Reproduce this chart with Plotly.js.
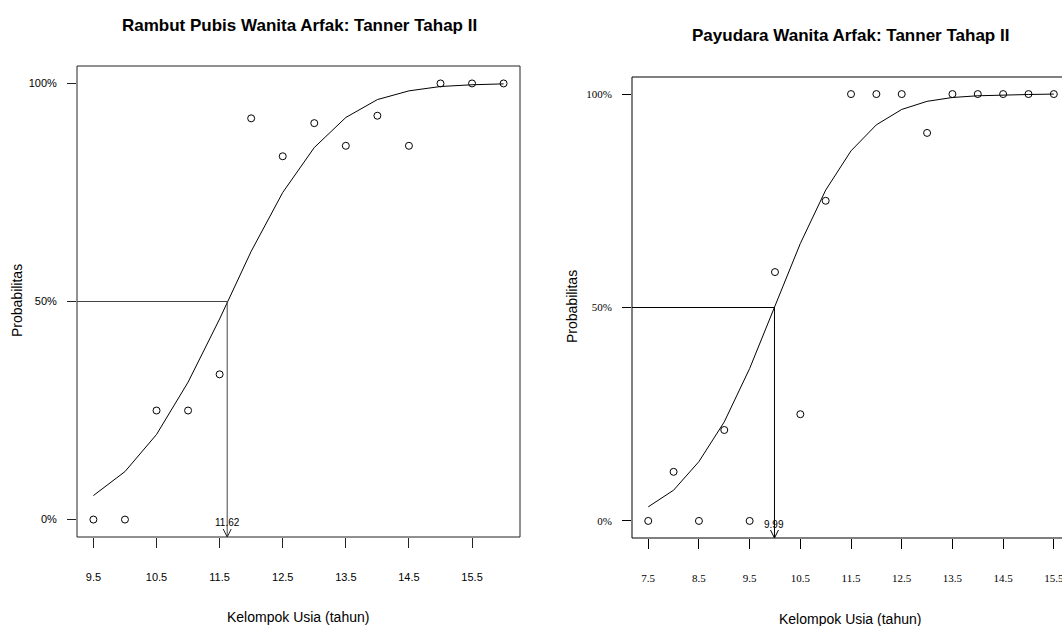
<!DOCTYPE html>
<html>
<head>
<meta charset="utf-8">
<script src="https://cdn.plot.ly/plotly-3.0.1.min.js"></script>
<style>html,body{margin:0;padding:0;background:#fff;}#chart{width:1062px;height:626px;}</style>
</head>
<body>
<div id="chart"></div>
<script>
// ---- Left panel: Rambut Pubis ----
var ageLeft = [9.5, 10, 10.5, 11, 11.5, 12, 12.5, 13, 13.5, 14, 14.5, 15, 15.5, 16];
var obsLeft = [0, 0, 0.25, 0.25, 0.333, 0.92, 0.833, 0.909, 0.857, 0.926, 0.857, 1, 1, 1];
var fitLeft = [0.055, 0.11, 0.195, 0.315, 0.46, 0.615, 0.75, 0.853, 0.922, 0.963, 0.983, 0.993, 0.997, 0.999];
var medianLeft = 11.62;
var xTicksLeft = [9.5, 10.5, 11.5, 12.5, 13.5, 14.5, 15.5];
var xTickTextLeft = ["9.5", "10.5", "11.5", "12.5", "13.5", "14.5", "15.5"];

// ---- Right panel: Payudara ----
var ageRight = [7.5, 8, 8.5, 9, 9.5, 10, 10.5, 11, 11.5, 12, 12.5, 13, 13.5, 14, 14.5, 15, 15.5];
var obsRight = [0, 0.115, 0, 0.213, 0, 0.583, 0.25, 0.75, 1, 1, 1, 0.909, 1, 1, 1, 1, 1];
var fitRight = [0.033, 0.072, 0.139, 0.232, 0.357, 0.503, 0.65, 0.775, 0.867, 0.928, 0.964, 0.983, 0.992, 0.996, 0.998, 0.999, 1.0];
var medianRight = 9.99;
var xTicksRight = [7.5, 8.5, 9.5, 10.5, 11.5, 12.5, 13.5, 14.5, 15.5];
var xTickTextRight = ["7.5", "8.5", "9.5", "10.5", "11.5", "12.5", "13.5", "14.5", "15.5"];

var yTicks = [0, 0.5, 1];
var yTickText = ["0%", "50%", "100%"];

var titleLeft = "Rambut Pubis Wanita Arfak: Tanner Tahap II";
var titleRight = "Payudara Wanita Arfak: Tanner Tahap II";
var xTitle = "Kelompok Usia (tahun)";
var yTitle = "Probabilitas";

var W = 1062, H = 626;
var SANS = "Liberation Sans, Arial, sans-serif";
var SERIF = "Liberation Serif, Times New Roman, serif";

var xRangeL = [9.24, 16.26];
var xRangeR = [7.18, 15.661];
var yRange = [-0.04, 1.04];

var traces = [
  {x: ageLeft, y: fitLeft, type: "scatter", mode: "lines", line: {color: "#000", width: 1}, xaxis: "x", yaxis: "y", hoverinfo: "skip"},
  {x: ageLeft, y: obsLeft, type: "scatter", mode: "markers", marker: {symbol: "circle-open", size: 7, color: "#000", line: {width: 1, color: "#000"}}, xaxis: "x", yaxis: "y", cliponaxis: false},
  {x: ageRight, y: fitRight, type: "scatter", mode: "lines", line: {color: "#000", width: 1}, xaxis: "x2", yaxis: "y2", hoverinfo: "skip"},
  {x: ageRight, y: obsRight, type: "scatter", mode: "markers", marker: {symbol: "circle-open", size: 7, color: "#000", line: {width: 1, color: "#000"}}, xaxis: "x2", yaxis: "y2", cliponaxis: false}
];

function px(x) { return x / W; }
function py(y) { return 1 - y / H; }

var baseX = {
  showgrid: false, zeroline: false, showline: false,
  ticks: "outside", ticklen: 10, tickwidth: 1, tickcolor: "#222",
  ticklabelstandoff: 20, ticklabeloverflow: "allow", fixedrange: true
};
var baseY = {
  showgrid: false, zeroline: false, showline: false,
  ticks: "outside", ticklen: 9, tickwidth: 1, tickcolor: "#222",
  ticklabelstandoff: 8, ticklabeloverflow: "allow", range: yRange, tickvals: yTicks, ticktext: yTickText, fixedrange: true
};

var layout = {
  width: W, height: H,
  margin: {l: 0, r: 0, t: 0, b: 0},
  paper_bgcolor: "#fff", plot_bgcolor: "#fff",
  font: {family: SANS, color: "#000"},
  showlegend: false,
  xaxis: Object.assign({}, baseX, {domain: [px(77), px(520)], range: xRangeL, tickvals: xTicksLeft, ticktext: xTickTextLeft, anchor: "y",
    tickfont: {family: SANS, size: 11, color: "#000"}}),
  yaxis: Object.assign({}, baseY, {domain: [py(537), py(66)], anchor: "x",
    tickfont: {family: SANS, size: 11, color: "#000"}}),
  xaxis2: Object.assign({}, baseX, {domain: [px(632), 1], range: xRangeR, tickvals: xTicksRight, ticktext: xTickTextRight, anchor: "y2", tickcolor: "#000",
    tickfont: {family: SERIF, size: 11, color: "#000"}}),
  yaxis2: Object.assign({}, baseY, {domain: [py(538), py(77)], anchor: "x2", tickcolor: "#000",
    tickfont: {family: SERIF, size: 11, color: "#000"}}),
  shapes: [
    // boxes
    {type: "rect", xref: "x domain", yref: "y domain", x0: 0, x1: 1, y0: 0, y1: 1, line: {color: "#222", width: 1}, layer: "above"},
    {type: "rect", xref: "x2 domain", yref: "y2 domain", x0: 0, x1: 1.0186, y0: 0, y1: 1, line: {color: "#000", width: 1}, layer: "above"},
    // left median guide lines
    {type: "line", xref: "x", yref: "y", x0: xRangeL[0], x1: medianLeft, y0: 0.5, y1: 0.5, line: {color: "#444", width: 1}},
    {type: "line", xref: "x", yref: "y", x0: medianLeft, x1: medianLeft, y0: 0.5, y1: yRange[0], line: {color: "#444", width: 1}},
    {type: "path", xref: "x", yref: "y", xsizemode: "pixel", ysizemode: "pixel", xanchor: medianLeft, yanchor: yRange[0],
      path: "M-4,8L0,0L4,8", line: {color: "#222", width: 1}},
    // right median guide lines
    {type: "line", xref: "x2", yref: "y2", x0: xRangeR[0], x1: medianRight, y0: 0.5, y1: 0.5, line: {color: "#000", width: 1}},
    {type: "line", xref: "x2", yref: "y2", x0: medianRight, x1: medianRight, y0: 0.5, y1: yRange[0], line: {color: "#000", width: 1}},
    {type: "path", xref: "x2", yref: "y2", xsizemode: "pixel", ysizemode: "pixel", xanchor: medianRight, yanchor: yRange[0],
      path: "M-4,8L0,0L4,8", line: {color: "#000", width: 1}}
  ],
  annotations: [
    {text: titleLeft, xref: "paper", yref: "paper", x: px(299), y: py(26), xanchor: "center", yanchor: "middle", showarrow: false,
      font: {family: SANS, size: 17, weight: "bold", color: "#000"}},
    {text: titleRight, xref: "paper", yref: "paper", x: px(850), y: py(36), xanchor: "center", yanchor: "middle", showarrow: false,
      font: {family: SANS, size: 17, weight: "bold", color: "#000"}},
    {text: xTitle, xref: "paper", yref: "paper", x: px(298), y: py(617), xanchor: "center", yanchor: "middle", showarrow: false,
      font: {family: SANS, size: 14, color: "#000"}},
    {text: xTitle, xref: "paper", yref: "paper", x: px(850), y: py(619), xanchor: "center", yanchor: "middle", showarrow: false,
      font: {family: SANS, size: 14, color: "#000"}},
    {text: yTitle, xref: "paper", yref: "paper", x: px(17), y: py(301), xanchor: "center", yanchor: "middle", textangle: -90, showarrow: false,
      font: {family: SANS, size: 14, color: "#000"}},
    {text: yTitle, xref: "paper", yref: "paper", x: px(572), y: py(307), xanchor: "center", yanchor: "middle", textangle: -90, showarrow: false,
      font: {family: SANS, size: 14, color: "#000"}},
    {text: medianLeft.toFixed(2), xref: "x", yref: "y", x: medianLeft, y: 0, yshift: -3, xanchor: "center", yanchor: "middle", showarrow: false,
      font: {family: SANS, size: 10, color: "#000"}},
    {text: medianRight.toFixed(2), xref: "x2", yref: "y2", x: medianRight, y: 0, yshift: -4, xanchor: "center", yanchor: "middle", showarrow: false,
      font: {family: SANS, size: 10, color: "#000"}}
  ]
};

Plotly.newPlot("chart", traces, layout, {staticPlot: true, displayModeBar: false});
</script>
</body>
</html>
